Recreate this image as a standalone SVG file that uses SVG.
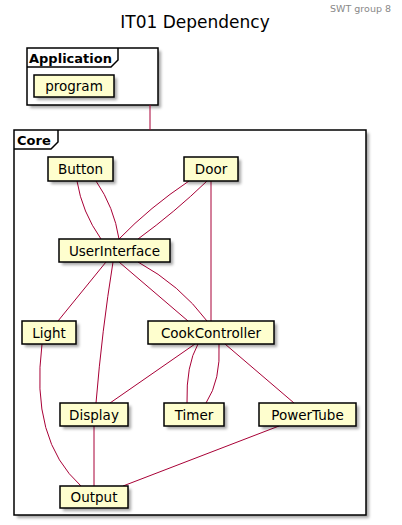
<svg xmlns="http://www.w3.org/2000/svg" width="402" height="525" viewBox="0 0 402 525">
<style>
.node rect.b{fill:#FEFECE;stroke:#000;stroke-width:1.5}
.frame{fill:#fff;stroke:#000;stroke-width:1.5}
.sh{fill:#000;opacity:0.35;filter:url(#blur)}
.t{font-family:"DejaVu Sans",Verdana,sans-serif;font-size:13.5px;fill:#000;text-anchor:middle}
.fl{font-family:"DejaVu Sans",Verdana,sans-serif;font-size:13px;font-weight:bold;fill:#000}
#edges path,#edges line{fill:none;stroke:#A80036;stroke-width:1}
</style>
<defs>
<filter id="blur" x="-20%" y="-20%" width="140%" height="140%"><feGaussianBlur stdDeviation="1.5"/></filter>
</defs>
<rect width="402" height="525" fill="#fff"/>
<text x="391" y="12" font-family="'DejaVu Sans',Verdana,sans-serif" font-size="9.5" fill="#888" text-anchor="end">SWT group 8</text>
<text x="195" y="28" font-family="'DejaVu Sans',Verdana,sans-serif" font-size="17" fill="#000" text-anchor="middle">IT01 Dependency</text>

<g id="Application">
<rect class="sh" x="30" y="51" width="131" height="57"/>
<rect class="frame" x="27" y="48" width="131" height="57"/>
<path d="M27,67 H111 L118,60 V48" fill="none" stroke="#000" stroke-width="1.5"/>
<text class="fl" x="29" y="63">Application</text>
</g>
<g id="Core">
<rect class="sh" x="17" y="133" width="352" height="385"/>
<rect class="frame" x="14" y="130" width="352" height="385"/>
<path d="M14,149 H51 L58,142 V130" fill="none" stroke="#000" stroke-width="1.5"/>
<text class="fl" x="17" y="145">Core</text>
</g>

<g id="edges">
<line x1="150" y1="105" x2="150" y2="130"/>
<path d="M77,181 Q82,212 101,239"/>
<path d="M96,181 Q114,207 119,239"/>
<path d="M189,181 Q150,207 119,239"/>
<path d="M207,181 Q175,212 138,239"/>
<line x1="211" y1="181" x2="211" y2="321"/>
<line x1="106" y1="262" x2="58" y2="321"/>
<path d="M113,262 Q102,330 96,403"/>
<line x1="119" y1="262" x2="188" y2="321"/>
<path d="M138,262 Q180,285 207,321"/>
<path d="M42,344 Q30,440 81,486"/>
<line x1="195" y1="344" x2="110" y2="403"/>
<path d="M198,344 Q186,365 187,403"/>
<path d="M219,344 Q221,380 206,403"/>
<line x1="225" y1="344" x2="294" y2="403"/>
<line x1="94" y1="426" x2="94" y2="486"/>
<line x1="279" y1="426" x2="123" y2="486"/>
</g>

<g id="program" class="node">
<rect class="sh" x="37" y="78" width="80" height="22"/>
<rect class="b" x="34" y="75" width="80" height="22"/>
<text class="t" x="74" y="91">program</text>
</g>
<g id="Button" class="node">
<rect class="sh" x="51" y="160" width="65" height="24"/>
<rect class="b" x="48" y="157" width="65" height="24"/>
<text class="t" x="80.5" y="174">Button</text>
</g>
<g id="Door" class="node">
<rect class="sh" x="187" y="160" width="54" height="24"/>
<rect class="b" x="184" y="157" width="54" height="24"/>
<text class="t" x="211" y="174">Door</text>
</g>
<g id="UserInterface" class="node">
<rect class="sh" x="62" y="242" width="111" height="23"/>
<rect class="b" x="59" y="239" width="111" height="23"/>
<text class="t" x="114.5" y="256">UserInterface</text>
</g>
<g id="Light" class="node">
<rect class="sh" x="25" y="324" width="54" height="23"/>
<rect class="b" x="22" y="321" width="54" height="23"/>
<text class="t" x="49" y="338">Light</text>
</g>
<g id="CookController" class="node">
<rect class="sh" x="151" y="324" width="126" height="23"/>
<rect class="b" x="148" y="321" width="126" height="23"/>
<text class="t" x="211" y="338">CookController</text>
</g>
<g id="Display" class="node">
<rect class="sh" x="63" y="406" width="68" height="23"/>
<rect class="b" x="60" y="403" width="68" height="23"/>
<text class="t" x="94" y="420">Display</text>
</g>
<g id="Timer" class="node">
<rect class="sh" x="167" y="406" width="60" height="23"/>
<rect class="b" x="164" y="403" width="60" height="23"/>
<text class="t" x="194" y="420">Timer</text>
</g>
<g id="PowerTube" class="node">
<rect class="sh" x="262" y="406" width="97" height="23"/>
<rect class="b" x="259" y="403" width="97" height="23"/>
<text class="t" x="307.5" y="420">PowerTube</text>
</g>
<g id="Output" class="node">
<rect class="sh" x="63" y="489" width="68" height="22"/>
<rect class="b" x="60" y="486" width="68" height="22"/>
<text class="t" x="94" y="502">Output</text>
</g>
</svg>
